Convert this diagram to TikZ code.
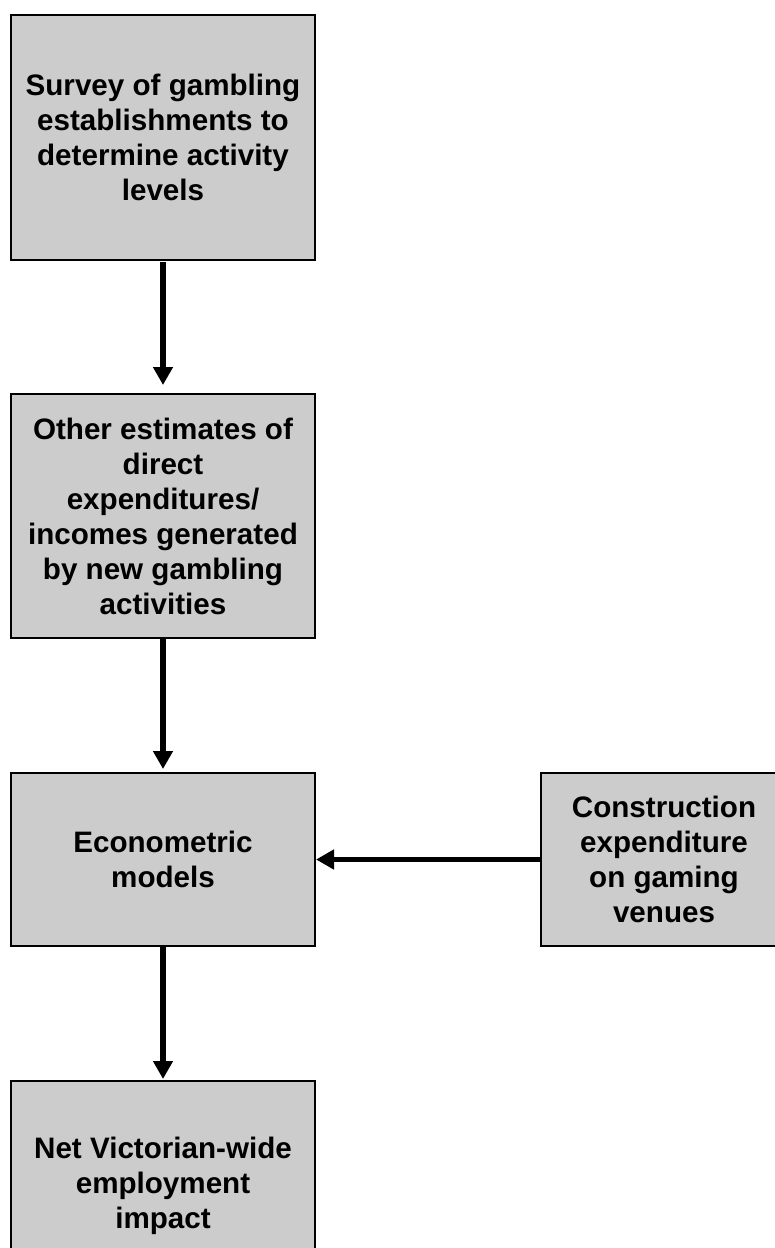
\documentclass[tikz,border=0pt]{standalone}
\usepackage{fontspec}
\setmainfont{Liberation Sans}
\usetikzlibrary{arrows.meta}
\begin{document}
\begin{tikzpicture}[x=1pt,y=-1pt,
  stage/.style={draw=black, line width=2.8pt, fill=boxgray, rectangle,
    inner sep=0pt, outer sep=0pt, align=center,
    font=\fontsize{29.6}{35}\selectfont\bfseries},
  flow/.style={line width=5.5pt, -{Triangle[width=19pt,length=18pt]}}]
  \definecolor{boxgray}{RGB}{204,204,204}
  \useasboundingbox (0,0) rectangle (775,1248);
  \clip (0,0) rectangle (775,1248);

  \node[stage, minimum width=304pt, minimum height=245pt] (survey) at (163,137.5)
    {Survey of gambling\\establishments to\\determine activity\\levels};
  \node[stage, minimum width=304pt, minimum height=244pt] (other) at (163,516)
    {Other estimates of\\direct\\expenditures/\\incomes generated\\by new gambling\\activities};
  \node[stage, minimum width=304pt, minimum height=173pt] (econ) at (163,859.5)
    {Econometric\\models};
  \node[stage, minimum width=246pt, minimum height=173pt] (constr) at (664,859.5)
    {Construction\\expenditure\\on gaming\\venues};
  \node[stage, minimum width=304pt, minimum height=210pt] (net) at (163,1186)
    {Net Victorian-wide\\employment\\impact};

  \draw[flow, shorten <=2pt, shorten >=9pt] (survey.south) -- (other.north);
  \draw[flow, shorten <=0pt, shorten >=4pt] (other.south) -- (econ.north);
  \draw[flow, shorten >=2pt] (econ.south) -- (net.north);
  \draw[flow, shorten >=1pt] (constr.west) -- (econ.east);
\end{tikzpicture}
\end{document}
